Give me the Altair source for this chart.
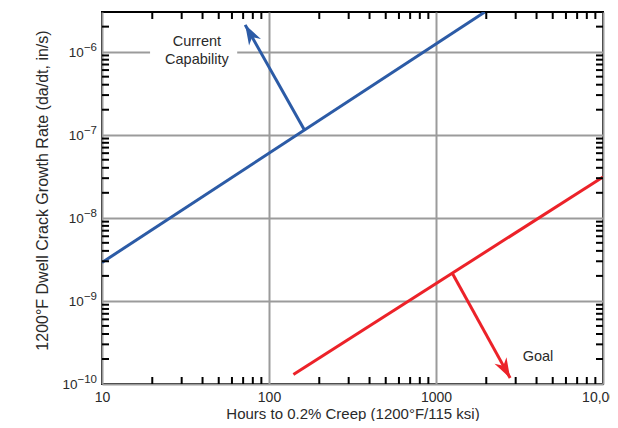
import math
import altair as alt
import pandas as pd

# ---------------- data ----------------
x_ticks = [10, 100, 1000, 10000]
x_tick_labels = ["10", "100", "1000", "10,000"]
y_ticks = [1e-10, 1e-9, 1e-8, 1e-7, 1e-6]
y_tick_base = ["10", "10", "10", "10", "10"]
y_tick_exp = ["−10", "−9", "−8", "−7", "−6"]

series = ["Current", "Current", "Goal", "Goal"]
line_x = [10, 1960, 140, 10000]
line_y = [2.9e-9, 3.0e-6, 1.3e-10, 3.1e-8]

arrow_series = ["Current", "Goal"]
arrow_x0 = [164, 1250]
arrow_y0 = [1.12e-7, 2.17e-9]
arrow_x1 = [72, 2780]
arrow_y1 = [2.1e-6, 1.18e-10]

label_text = ["Current", "Capability", "Goal"]
label_x = [37, 37, 4080]
label_y = [1.30e-6, 8.0e-7, 2.1e-10]

mask_x = [19.4]
mask_x2 = [64.5]
mask_y = [0.88e-6]
mask_y2 = [1.14e-6]

minor_mult = [2, 3, 4, 5, 6, 7, 8, 9]
x_minor = [m * d for d in [10, 100, 1000] for m in minor_mult]
y_minor = [m * d for d in [1e-10, 1e-9, 1e-8, 1e-7] for m in minor_mult] + [2e-6]

# ---------------- layout ----------------
W, H = 501, 372
X_DOM = [10, 10000]
Y_DOM = [1e-10, 3e-6]
BLUE = "#2c5ba6"
RED = "#ec2229"
FONT = "Liberation Sans"
TXT = "#2a2a2a"
EXP_SIZE = 11.5
BASE_SIZE = 13.5

xs = alt.Scale(type="log", domain=X_DOM, nice=False)
ys = alt.Scale(type="log", domain=Y_DOM, nice=False)
cs = alt.Scale(domain=["Current", "Goal"], range=[BLUE, RED])


def px(x):
    return W * (math.log10(x) - math.log10(X_DOM[0])) / (math.log10(X_DOM[1]) - math.log10(X_DOM[0]))


def py(y):
    return H * (1 - (math.log10(y) - math.log10(Y_DOM[0])) / (math.log10(Y_DOM[1]) - math.log10(Y_DOM[0])))


def label_expr(vals, labels):
    expr = "''"
    for v, l in zip(reversed(vals), reversed(labels)):
        expr = f"(abs(log(datum.value)/LN10 - ({math.log10(v)})) < 0.01) ? '{l}' : ({expr})"
    return expr


lines_df = pd.DataFrame({"s": series, "x": line_x, "y": line_y})

shaft_rows = []
head_rows = []
for s, a, b, c, d in zip(arrow_series, arrow_x0, arrow_y0, arrow_x1, arrow_y1):
    shaft_rows.append({"s": s, "x": a, "y": b, "o": 0})
    shaft_rows.append({"s": s, "x": c, "y": d, "o": 1})
    dx = px(c) - px(a)
    dy = py(d) - py(b)
    ang = math.degrees(math.atan2(dx, -dy)) % 360
    head_rows.append({"s": s, "x": c, "y": d, "ang": ang})
shaft_df = pd.DataFrame(shaft_rows)
head_df = pd.DataFrame(head_rows)

labels_df = pd.DataFrame({"t": label_text, "x": label_x, "y": label_y})
mask_df = pd.DataFrame({"x": mask_x, "x2": mask_x2, "y": mask_y, "y2": mask_y2})
xminor_df = pd.DataFrame({"x": x_minor})
yminor_df = pd.DataFrame({"y": y_minor})

# y tick labels with real superscript layout
exp_w = [EXP_SIZE * (0.584 + 0.556 * (len(e) - 1)) for e in y_tick_exp]
ylab_df = pd.DataFrame({
    "y": y_ticks, "base": y_tick_base, "exp": y_tick_exp,
    "bx": [-5 - w for w in exp_w],
})

x_axis = alt.Axis(
    values=x_ticks, labelExpr=label_expr(x_ticks, x_tick_labels), grid=True,
    gridColor="#9b9b9b", gridWidth=2, ticks=False, domain=False,
    labelFont=FONT, labelFontSize=14, labelColor=TXT, labelPadding=6,
    labelFlush=False, labelOverlap=False,
    title="Hours to 0.2% Creep (1200°F/115 ksi)", titleFont=FONT, titleFontSize=15,
    titleFontWeight="normal", titleColor=TXT, titleY=34, titleBaseline="alphabetic",
)
y_axis = alt.Axis(
    values=y_ticks, labels=False, grid=True,
    gridColor="#9b9b9b", gridWidth=2, ticks=False, domain=False,
    title="1200°F Dwell Crack Growth Rate (da/dt, in/s)", titleFont=FONT, titleFontSize=16,
    titleFontWeight="normal", titleColor=TXT, titleX=-60, titleY=178,
    titleAngle=270, titleAlign="center", titleBaseline="middle",
)

base_lines = alt.Chart(lines_df).mark_line(strokeWidth=3, clip=True).encode(
    x=alt.X("x:Q", scale=xs, axis=x_axis),
    y=alt.Y("y:Q", scale=ys, axis=y_axis),
    color=alt.Color("s:N", scale=cs, legend=None),
    detail="s:N",
)

mask = alt.Chart(mask_df).mark_rect(color="white").encode(
    x=alt.X("x:Q", scale=xs), x2="x2:Q",
    y=alt.Y("y:Q", scale=ys), y2="y2:Q",
)

shafts = alt.Chart(shaft_df).mark_line(strokeWidth=3).encode(
    x=alt.X("x:Q", scale=xs), y=alt.Y("y:Q", scale=ys),
    color=alt.Color("s:N", scale=cs, legend=None),
    detail="s:N", order="o:Q",
)

heads = alt.Chart(head_df).mark_point(
    shape="M0,0 L0.75,2.2 L0,1.55 L-0.75,2.2 Z", filled=True, opacity=1, size=330,
).encode(
    x=alt.X("x:Q", scale=xs), y=alt.Y("y:Q", scale=ys),
    color=alt.Color("s:N", scale=cs, legend=None),
    angle=alt.Angle("ang:Q", scale=None),
)

texts = alt.Chart(labels_df).mark_text(font=FONT, fontSize=14.5, color=TXT).encode(
    x=alt.X("x:Q", scale=xs), y=alt.Y("y:Q", scale=ys), text="t:N",
)

ylab_exp = alt.Chart(ylab_df).mark_text(
    font=FONT, fontSize=EXP_SIZE, color=TXT, align="right", baseline="alphabetic", dy=-1,
).encode(y=alt.Y("y:Q", scale=ys), x=alt.value(-5), text="exp:N")
ylab_base = alt.Chart(ylab_df).mark_text(
    font=FONT, fontSize=BASE_SIZE, color=TXT, align="right", baseline="alphabetic", dy=5,
).encode(y=alt.Y("y:Q", scale=ys), x=alt.X("bx:Q", scale=None), text="base:N")

TL = 7
tick_style = dict(color="black", strokeWidth=2)
xb = alt.Chart(xminor_df).mark_rule(**tick_style).encode(
    x=alt.X("x:Q", scale=xs), y=alt.value(H), y2=alt.value(H - TL))
xt = alt.Chart(xminor_df).mark_rule(**tick_style).encode(
    x=alt.X("x:Q", scale=xs), y=alt.value(0), y2=alt.value(TL))
yl = alt.Chart(yminor_df).mark_rule(**tick_style).encode(
    y=alt.Y("y:Q", scale=ys), x=alt.value(0), x2=alt.value(TL))
yr = alt.Chart(yminor_df).mark_rule(**tick_style).encode(
    y=alt.Y("y:Q", scale=ys), x=alt.value(W), x2=alt.value(W - TL))

chart = alt.layer(
    mask, base_lines, shafts, heads, texts, ylab_exp, ylab_base, xb, xt, yl, yr
).properties(
    width=W, height=H,
    autosize=alt.AutoSizeParams(type="none"),
    padding={"left": 94, "top": 4, "right": 7, "bottom": 37},
    background="white",
).configure_view(stroke="black", strokeWidth=2)

chart.save("out.html", embed_options={"renderer": "svg", "actions": False})
